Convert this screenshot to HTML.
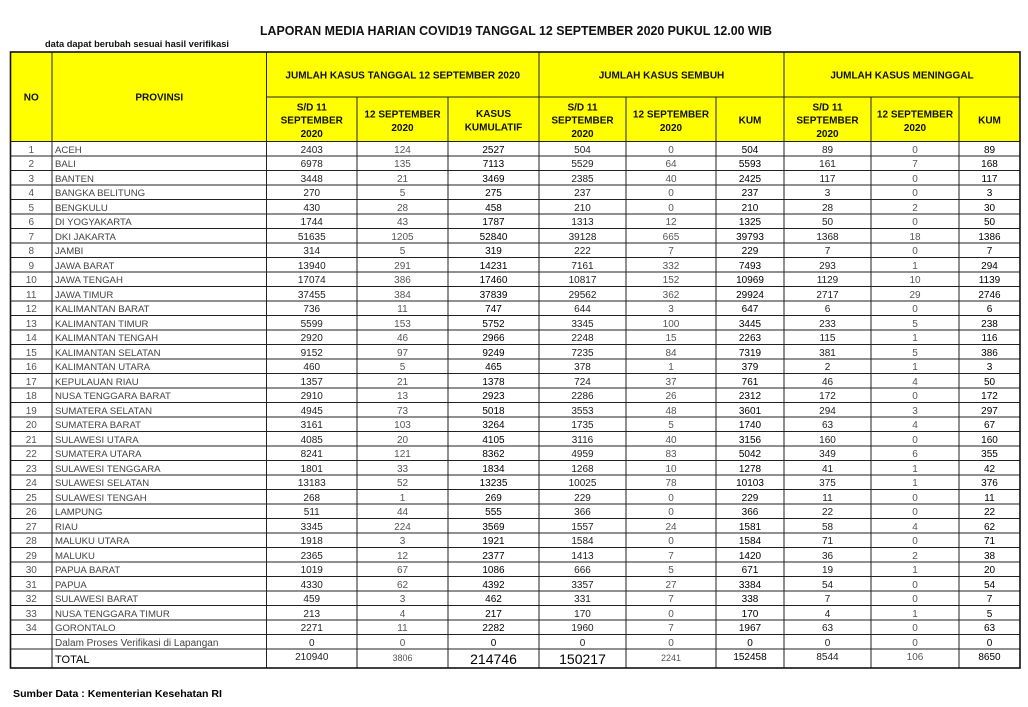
<!DOCTYPE html>
<html><head><meta charset="utf-8">
<style>
body{margin:0;width:1028px;height:707px;background:#fff;position:relative;overflow:hidden;font-family:"Liberation Sans",Arial,sans-serif}
svg{position:absolute;left:0;top:0}
.r{position:absolute;left:10.5px;height:14.5px;display:flex;font-size:10px;line-height:17px;white-space:nowrap}
.r span{flex:0 0 auto;text-align:center;color:#222;overflow:visible}
.r span:nth-child(1){width:41.5px;color:#555}
.r span:nth-child(2){width:211.5px;padding-left:3px;text-align:left;color:#444;font-size:9.6px}
.r span:nth-child(3){width:90.5px}
.r span:nth-child(4){width:91px;color:#555}
.r span:nth-child(5){width:91px;color:#000}
.r span:nth-child(6){width:87px}
.r span:nth-child(7){width:90px;color:#555}
.r span:nth-child(8){width:68px;color:#000}
.r span:nth-child(9){width:87px}
.r span:nth-child(10){width:88px;color:#555}
.r span:nth-child(11){width:61px;color:#000}
</style></head><body>
<svg width="1028" height="707" viewBox="0 0 1028 707" xmlns="http://www.w3.org/2000/svg">
<text x="516" y="35" text-anchor="middle" font-family="Liberation Sans, Arial, sans-serif" font-weight="bold" font-size="12.5" fill="#111" textLength="512" lengthAdjust="spacingAndGlyphs">LAPORAN MEDIA HARIAN COVID19 TANGGAL 12 SEPTEMBER 2020 PUKUL 12.00 WIB</text>
<text x="45" y="47" font-family="Liberation Sans, Arial, sans-serif" font-weight="bold" font-size="9" fill="#111" textLength="184" lengthAdjust="spacingAndGlyphs">data dapat berubah sesuai hasil verifikasi</text>
<text x="13" y="697" font-family="Liberation Sans, Arial, sans-serif" font-weight="bold" font-size="10.5" fill="#000" textLength="209" lengthAdjust="spacingAndGlyphs">Sumber Data : Kementerian Kesehatan RI</text>
<rect x="10.5" y="52" width="1009.5" height="89.5" fill="#FFFF00"/>
<g font-family="Liberation Sans, Arial, sans-serif" font-weight="bold" font-size="10" fill="#111" text-anchor="middle">
<text x="31.25" y="100.5">NO</text>
<text x="159.25" y="100.5">PROVINSI</text>
<text x="402.75" y="78.5">JUMLAH KASUS TANGGAL 12 SEPTEMBER 2020</text>
<text x="661.5" y="78.5">JUMLAH KASUS SEMBUH</text>
<text x="902" y="78.5">JUMLAH KASUS MENINGGAL</text>
<text x="311.75" y="110.5">S/D 11</text><text x="311.75" y="123.5">SEPTEMBER</text><text x="311.75" y="137">2020</text>
<text x="582.5" y="110.5">S/D 11</text><text x="582.5" y="123.5">SEPTEMBER</text><text x="582.5" y="137">2020</text>
<text x="827.5" y="110.5">S/D 11</text><text x="827.5" y="123.5">SEPTEMBER</text><text x="827.5" y="137">2020</text>
<text x="402.5" y="117.5">12 SEPTEMBER</text><text x="402.5" y="131">2020</text>
<text x="671" y="117.5">12 SEPTEMBER</text><text x="671" y="131">2020</text>
<text x="915" y="117.5">12 SEPTEMBER</text><text x="915" y="131">2020</text>
<text x="493.5" y="117">KASUS</text><text x="493.5" y="130.5">KUMULATIF</text>
<text x="750" y="123.6">KUM</text>
<text x="989.5" y="123.6">KUM</text>
</g>
<path fill="none" stroke="#222" stroke-width="1" d="
M266.5 97H1020
M52 52V668 M266.5 52V668 M539 52V668 M784 52V668
M357 97V668 M448 97V668 M626 97V668 M716 97V668 M871 97V668 M959 97V668
M10.5 141.5H1020 M10.5 156H1020 M10.5 170.5H1020 M10.5 185H1020 M10.5 199.5H1020 M10.5 214H1020
M10.5 228.5H1020 M10.5 243H1020 M10.5 257.5H1020 M10.5 272H1020 M10.5 286.5H1020 M10.5 301H1020
M10.5 315.5H1020 M10.5 330H1020 M10.5 344.5H1020 M10.5 359H1020 M10.5 373.5H1020 M10.5 388H1020
M10.5 402.5H1020 M10.5 417H1020 M10.5 431.5H1020 M10.5 446H1020 M10.5 460.5H1020 M10.5 475H1020
M10.5 489.5H1020 M10.5 504H1020 M10.5 518.5H1020 M10.5 533H1020 M10.5 547.5H1020 M10.5 562H1020
M10.5 576.5H1020 M10.5 591H1020 M10.5 605.5H1020 M10.5 620H1020 M10.5 634.5H1020 M10.5 649H1020"/>
<rect x="10.5" y="52" width="1009.5" height="616" fill="none" stroke="#111" stroke-width="1.6"/>
</svg>

<div class="r" style="top:141.5px"><span>1</span><span>ACEH</span><span>2403</span><span>124</span><span>2527</span><span>504</span><span>0</span><span>504</span><span>89</span><span>0</span><span>89</span></div>
<div class="r" style="top:156px"><span>2</span><span>BALI</span><span>6978</span><span>135</span><span>7113</span><span>5529</span><span>64</span><span>5593</span><span>161</span><span>7</span><span>168</span></div>
<div class="r" style="top:170.5px"><span>3</span><span>BANTEN</span><span>3448</span><span>21</span><span>3469</span><span>2385</span><span>40</span><span>2425</span><span>117</span><span>0</span><span>117</span></div>
<div class="r" style="top:185px"><span>4</span><span>BANGKA BELITUNG</span><span>270</span><span>5</span><span>275</span><span>237</span><span>0</span><span>237</span><span>3</span><span>0</span><span>3</span></div>
<div class="r" style="top:199.5px"><span>5</span><span>BENGKULU</span><span>430</span><span>28</span><span>458</span><span>210</span><span>0</span><span>210</span><span>28</span><span>2</span><span>30</span></div>
<div class="r" style="top:214px"><span>6</span><span>DI YOGYAKARTA</span><span>1744</span><span>43</span><span>1787</span><span>1313</span><span>12</span><span>1325</span><span>50</span><span>0</span><span>50</span></div>
<div class="r" style="top:228.5px"><span>7</span><span>DKI JAKARTA</span><span>51635</span><span>1205</span><span>52840</span><span>39128</span><span>665</span><span>39793</span><span>1368</span><span>18</span><span>1386</span></div>
<div class="r" style="top:243px"><span>8</span><span>JAMBI</span><span>314</span><span>5</span><span>319</span><span>222</span><span>7</span><span>229</span><span>7</span><span>0</span><span>7</span></div>
<div class="r" style="top:257.5px"><span>9</span><span>JAWA BARAT</span><span>13940</span><span>291</span><span>14231</span><span>7161</span><span>332</span><span>7493</span><span>293</span><span>1</span><span>294</span></div>
<div class="r" style="top:272px"><span>10</span><span>JAWA TENGAH</span><span>17074</span><span>386</span><span>17460</span><span>10817</span><span>152</span><span>10969</span><span>1129</span><span>10</span><span>1139</span></div>
<div class="r" style="top:286.5px"><span>11</span><span>JAWA TIMUR</span><span>37455</span><span>384</span><span>37839</span><span>29562</span><span>362</span><span>29924</span><span>2717</span><span>29</span><span>2746</span></div>
<div class="r" style="top:301px"><span>12</span><span>KALIMANTAN BARAT</span><span>736</span><span>11</span><span>747</span><span>644</span><span>3</span><span>647</span><span>6</span><span>0</span><span>6</span></div>
<div class="r" style="top:315.5px"><span>13</span><span>KALIMANTAN TIMUR</span><span>5599</span><span>153</span><span>5752</span><span>3345</span><span>100</span><span>3445</span><span>233</span><span>5</span><span>238</span></div>
<div class="r" style="top:330px"><span>14</span><span>KALIMANTAN TENGAH</span><span>2920</span><span>46</span><span>2966</span><span>2248</span><span>15</span><span>2263</span><span>115</span><span>1</span><span>116</span></div>
<div class="r" style="top:344.5px"><span>15</span><span>KALIMANTAN SELATAN</span><span>9152</span><span>97</span><span>9249</span><span>7235</span><span>84</span><span>7319</span><span>381</span><span>5</span><span>386</span></div>
<div class="r" style="top:359px"><span>16</span><span>KALIMANTAN UTARA</span><span>460</span><span>5</span><span>465</span><span>378</span><span>1</span><span>379</span><span>2</span><span>1</span><span>3</span></div>
<div class="r" style="top:373.5px"><span>17</span><span>KEPULAUAN RIAU</span><span>1357</span><span>21</span><span>1378</span><span>724</span><span>37</span><span>761</span><span>46</span><span>4</span><span>50</span></div>
<div class="r" style="top:388px"><span>18</span><span>NUSA TENGGARA BARAT</span><span>2910</span><span>13</span><span>2923</span><span>2286</span><span>26</span><span>2312</span><span>172</span><span>0</span><span>172</span></div>
<div class="r" style="top:402.5px"><span>19</span><span>SUMATERA SELATAN</span><span>4945</span><span>73</span><span>5018</span><span>3553</span><span>48</span><span>3601</span><span>294</span><span>3</span><span>297</span></div>
<div class="r" style="top:417px"><span>20</span><span>SUMATERA BARAT</span><span>3161</span><span>103</span><span>3264</span><span>1735</span><span>5</span><span>1740</span><span>63</span><span>4</span><span>67</span></div>
<div class="r" style="top:431.5px"><span>21</span><span>SULAWESI UTARA</span><span>4085</span><span>20</span><span>4105</span><span>3116</span><span>40</span><span>3156</span><span>160</span><span>0</span><span>160</span></div>
<div class="r" style="top:446px"><span>22</span><span>SUMATERA UTARA</span><span>8241</span><span>121</span><span>8362</span><span>4959</span><span>83</span><span>5042</span><span>349</span><span>6</span><span>355</span></div>
<div class="r" style="top:460.5px"><span>23</span><span>SULAWESI TENGGARA</span><span>1801</span><span>33</span><span>1834</span><span>1268</span><span>10</span><span>1278</span><span>41</span><span>1</span><span>42</span></div>
<div class="r" style="top:475px"><span>24</span><span>SULAWESI SELATAN</span><span>13183</span><span>52</span><span>13235</span><span>10025</span><span>78</span><span>10103</span><span>375</span><span>1</span><span>376</span></div>
<div class="r" style="top:489.5px"><span>25</span><span>SULAWESI TENGAH</span><span>268</span><span>1</span><span>269</span><span>229</span><span>0</span><span>229</span><span>11</span><span>0</span><span>11</span></div>
<div class="r" style="top:504px"><span>26</span><span>LAMPUNG</span><span>511</span><span>44</span><span>555</span><span>366</span><span>0</span><span>366</span><span>22</span><span>0</span><span>22</span></div>
<div class="r" style="top:518.5px"><span>27</span><span>RIAU</span><span>3345</span><span>224</span><span>3569</span><span>1557</span><span>24</span><span>1581</span><span>58</span><span>4</span><span>62</span></div>
<div class="r" style="top:533px"><span>28</span><span>MALUKU UTARA</span><span>1918</span><span>3</span><span>1921</span><span>1584</span><span>0</span><span>1584</span><span>71</span><span>0</span><span>71</span></div>
<div class="r" style="top:547.5px"><span>29</span><span>MALUKU</span><span>2365</span><span>12</span><span>2377</span><span>1413</span><span>7</span><span>1420</span><span>36</span><span>2</span><span>38</span></div>
<div class="r" style="top:562px"><span>30</span><span>PAPUA BARAT</span><span>1019</span><span>67</span><span>1086</span><span>666</span><span>5</span><span>671</span><span>19</span><span>1</span><span>20</span></div>
<div class="r" style="top:576.5px"><span>31</span><span>PAPUA</span><span>4330</span><span>62</span><span>4392</span><span>3357</span><span>27</span><span>3384</span><span>54</span><span>0</span><span>54</span></div>
<div class="r" style="top:591px"><span>32</span><span>SULAWESI BARAT</span><span>459</span><span>3</span><span>462</span><span>331</span><span>7</span><span>338</span><span>7</span><span>0</span><span>7</span></div>
<div class="r" style="top:605.5px"><span>33</span><span>NUSA TENGGARA TIMUR</span><span>213</span><span>4</span><span>217</span><span>170</span><span>0</span><span>170</span><span>4</span><span>1</span><span>5</span></div>
<div class="r" style="top:620px"><span>34</span><span>GORONTALO</span><span>2271</span><span>11</span><span>2282</span><span>1960</span><span>7</span><span>1967</span><span>63</span><span>0</span><span>63</span></div>
<div class="r" style="top:634.5px"><span></span><span style="font-size:10px">Dalam Proses Verifikasi di Lapangan</span><span>0</span><span>0</span><span>0</span><span>0</span><span>0</span><span>0</span><span>0</span><span>0</span><span>0</span></div>
<div class="r" style="top:649px;height:19px"><span></span><span style="font-size:11px;line-height:22.4px;color:#000">TOTAL</span><span style="line-height:18px">210940</span><span style="font-size:9px;line-height:18.2px">3806</span><span style="font-size:14px;line-height:20.9px">214746</span><span style="font-size:14px;line-height:20.9px;color:#000">150217</span><span style="font-size:9px;line-height:18.2px">2241</span><span style="line-height:17px">152458</span><span style="line-height:17px">8544</span><span style="line-height:17px">106</span><span style="line-height:17px">8650</span></div>
</body></html>
